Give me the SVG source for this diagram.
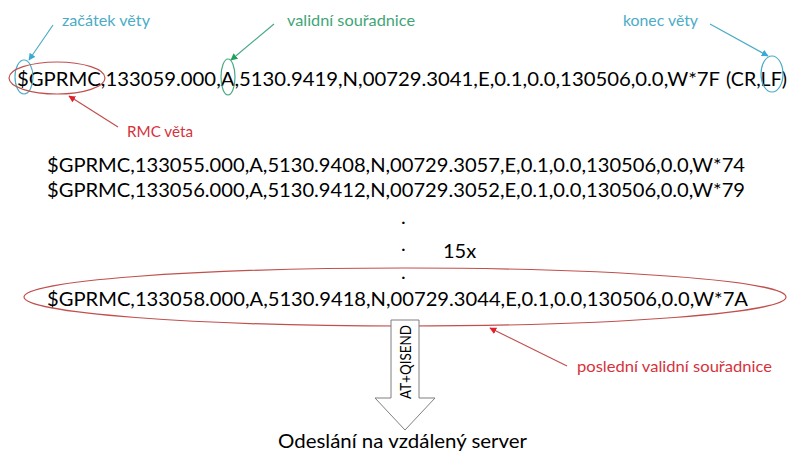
<svg xmlns="http://www.w3.org/2000/svg" width="788" height="457" viewBox="0 0 788 457">
<style>
text{font-family:Lato,"Open Sans","Liberation Sans",sans-serif;}
.nmea{font-size:20px;fill:#000;}
.lbl{font-size:16px;}
.blue{fill:#4bacc6;}
.green{fill:#3fa577;}
.red{fill:#d6323c;}
.ell{fill:none;stroke-width:1.2;}
.conn{fill:none;stroke-width:1.2;}
</style>
<defs>
<marker id="hb" viewBox="0 0 10 10" refX="9" refY="5" markerWidth="7" markerHeight="7" orient="auto" markerUnits="userSpaceOnUse"><path d="M0,0L10,5L0,10z" fill="#3aa9d6"/></marker>
<marker id="hg" viewBox="0 0 10 10" refX="9" refY="5" markerWidth="7" markerHeight="7" orient="auto" markerUnits="userSpaceOnUse"><path d="M0,0L10,5L0,10z" fill="#22a05a"/></marker>
<marker id="hr" viewBox="0 0 10 10" refX="9" refY="5" markerWidth="7" markerHeight="7" orient="auto" markerUnits="userSpaceOnUse"><path d="M0,0L10,5L0,10z" fill="#e0202c"/></marker>
</defs>
<rect width="788" height="457" fill="#fff"/>

<g id="sentence1">
<text class="nmea" x="17" y="86" textLength="703" lengthAdjust="spacingAndGlyphs">$GPRMC,133059.000,A,5130.9419,N,00729.3041,E,0.1,0.0,130506,0.0,W*7F</text>
<text class="nmea" x="726" y="86" textLength="61" lengthAdjust="spacingAndGlyphs">(CR,LF)</text>
</g>
<g id="mark-start"><ellipse class="ell" cx="24" cy="77" rx="9" ry="17" stroke="#4bacc6"/></g>
<g id="mark-rmc"><ellipse class="ell" cx="57" cy="78" rx="48" ry="16" stroke="#c0504d"/></g>
<g id="mark-valid"><ellipse class="ell" cx="228" cy="77" rx="7" ry="18" stroke="#4aa985"/></g>
<g id="mark-end"><ellipse class="ell" cx="772" cy="74" rx="11" ry="18" stroke="#4bacc6"/></g>

<g id="label-start"><text class="lbl blue" x="62" y="26" textLength="88" lengthAdjust="spacingAndGlyphs">začátek věty</text></g>
<g id="label-valid"><text class="lbl green" x="287" y="26" textLength="128" lengthAdjust="spacingAndGlyphs">validní souřadnice</text></g>
<g id="label-end"><text class="lbl blue" x="623" y="26" textLength="75" lengthAdjust="spacingAndGlyphs">konec věty</text></g>
<g id="label-rmc"><text class="lbl red" x="127" y="137" textLength="66" lengthAdjust="spacingAndGlyphs">RMC věta</text></g>

<g id="sentences">
<text class="nmea" x="47" y="172" textLength="698" lengthAdjust="spacingAndGlyphs">$GPRMC,133055.000,A,5130.9408,N,00729.3057,E,0.1,0.0,130506,0.0,W*74</text>
<text class="nmea" x="47" y="197" textLength="698" lengthAdjust="spacingAndGlyphs">$GPRMC,133056.000,A,5130.9412,N,00729.3052,E,0.1,0.0,130506,0.0,W*79</text>
<text class="nmea" x="401" y="224">.</text>
<text class="nmea" x="401" y="251">.</text>
<text class="nmea" x="401" y="279">.</text>
<text class="nmea" x="443" y="258">15x</text>
</g>

<g id="last-sentence">
<text class="nmea" x="47" y="306" textLength="701" lengthAdjust="spacingAndGlyphs">$GPRMC,133058.000,A,5130.9418,N,00729.3044,E,0.1,0.0,130506,0.0,W*7A</text>
<ellipse class="ell" cx="405" cy="297" rx="381" ry="29" stroke="#c0504d"/>
</g>
<g id="label-last"><text class="lbl red" x="577" y="372" textLength="195" lengthAdjust="spacingAndGlyphs">poslední validní souřadnice</text></g>

<g id="send-arrow">
<path d="M391,320H419V398H435L405,430L375,398H391Z" fill="#fff" stroke="#7f7f7f" stroke-width="1"/>
<text x="0" y="0" font-size="15" fill="#000" transform="translate(411,399) rotate(-90)" textLength="74" lengthAdjust="spacingAndGlyphs">AT+QISEND</text>
</g>

<g id="server"><text class="nmea" x="278" y="448" textLength="249" lengthAdjust="spacingAndGlyphs">Odeslání na vzdálený server</text></g>

<g id="connectors">
<line class="conn" x1="53" y1="25" x2="29" y2="60" stroke="#4bacc6" marker-end="url(#hb)"/>
<line class="conn" x1="274" y1="24" x2="231" y2="60" stroke="#4aa985" marker-end="url(#hg)"/>
<line class="conn" x1="710" y1="24" x2="768" y2="56" stroke="#4bacc6" marker-end="url(#hb)"/>
<line class="conn" x1="118" y1="127" x2="69" y2="96" stroke="#c0504d" marker-end="url(#hr)"/>
<line class="conn" x1="567" y1="366" x2="490" y2="328" stroke="#c0504d" marker-end="url(#hr)"/>
</g>
</svg>
